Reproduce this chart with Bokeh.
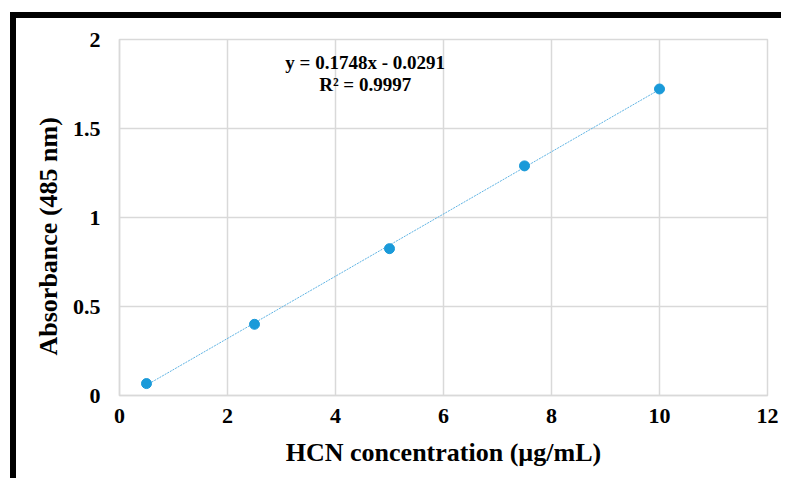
import numpy as np
from bokeh.plotting import figure
from bokeh.models import Label, FixedTicker, Range1d, Title
from bokeh.embed import file_html
from bokeh.resources import INLINE

conc = [0.5, 2.5, 5.0, 7.5, 10.0]
absorb = [0.067, 0.400, 0.825, 1.290, 1.722]
slope = 0.1748
intercept = -0.0291
eq_text = "y = 0.1748x - 0.0291"
r2_text = "R² = 0.9997"
x_title = "HCN concentration (µg/mL)"
y_title = "Absorbance  (485 nm)"
x_ticks = [0, 2, 4, 6, 8, 10, 12]
y_ticks = [0, 0.5, 1, 1.5, 2]

FONT = "Liberation Serif"

p = figure(width=771, height=466, output_backend="svg", toolbar_location=None,
           x_range=Range1d(0, 12), y_range=Range1d(0, 2),
           min_border_left=103, min_border_right=20, min_border_top=21, min_border_bottom=89,
           styles={"margin-left": "10px", "margin-top": "12px",
                   "border-left": "6px solid black", "border-top": "6px solid black"})
p.background_fill_color = "white"
p.border_fill_color = "white"
p.outline_line_color = "#d9d9d9"
p.outline_line_width = 1.5

for g in (p.xgrid, p.ygrid):
    g.grid_line_color = "#d9d9d9"
    g.grid_line_width = 1.5
p.xaxis.ticker = FixedTicker(ticks=x_ticks)
p.yaxis.ticker = FixedTicker(ticks=y_ticks)
p.yaxis.major_label_overrides = {0: "0", 0.5: "0.5", 1: "1", 1.5: "1.5", 2: "2"}
for ax in (p.xaxis, p.yaxis):
    ax.axis_line_color = "#d9d9d9"
    ax.axis_line_width = 1.5
    ax.major_tick_line_color = None
    ax.minor_tick_line_color = None
    ax.major_tick_out = 0
    ax.major_tick_in = 0
    ax.minor_tick_out = 0
    ax.major_label_text_font = FONT
    ax.major_label_text_font_style = "bold"
    ax.major_label_text_font_size = "22px"
    ax.major_label_text_color = "black"
    ax.axis_label_text_font = FONT
    ax.axis_label_text_font_style = "bold"
    ax.axis_label_text_font_size = "26px"
    ax.axis_label_text_color = "black"
p.yaxis.major_label_standoff = 19
p.xaxis.major_label_standoff = 13
p.xaxis.axis_label = x_title
p.xaxis.axis_label_standoff = 12

xs = np.array([conc[0], conc[-1]])
p.line(xs, slope * xs + intercept, line_color="#5fb3e3", line_width=1, line_dash="2 1")
p.scatter(conc, absorb, size=10, fill_color="#1a9ad9", line_color="#1a9ad9")

for ypos, t in ((1.87, eq_text), (1.75, r2_text)):
    p.add_layout(Label(x=4.55, y=ypos, text=t, text_font=FONT, text_font_style="bold",
                       text_font_size="19px", text_color="black",
                       text_align="center", text_baseline="middle"))

p.add_layout(Title(text=y_title, align="left", offset=40, standoff=13, text_font=FONT,
                   text_font_style="bold", text_font_size="26px", text_color="black"), "left")

open("out.html", "w").write(file_html(p, INLINE))
